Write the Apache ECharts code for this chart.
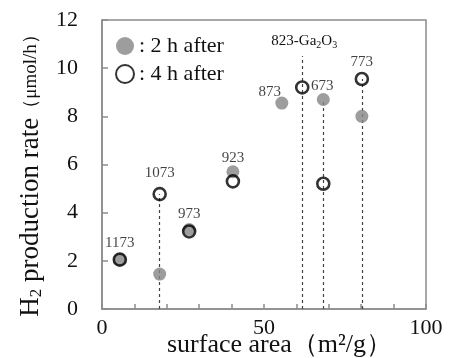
<!DOCTYPE html>
<html><head><meta charset="utf-8">
<script src="https://cdn.jsdelivr.net/npm/echarts@6/dist/echarts.min.js"></script>
<style>html,body{margin:0;padding:0;background:#fff}#c{width:450px;height:358px}</style>
</head><body><div id="c"></div>
<script>
const samples = ['1173', '1073', '973', '923', '873', '823-Ga₂O₃', '673', '773'];
const surfaceArea = [5.5, 17.8, 26.9, 40.4, 55.5, 61.8, 68.3, 80.2];
const rate2h = [2.05, 1.45, 3.3, 5.7, 8.55, null, 8.7, 8.0];
const rate4h = [2.05, 4.77, 3.22, 5.3, null, 9.2, 5.2, 9.55];
const guideTop = [null, 4.77, null, null, null, 10.5, 8.7, 9.55];
const xTicks = [0, 50, 100];
const yTicks = [0, 2, 4, 6, 8, 10, 12];

const serif = 'Liberation Serif';
const axisGray = '#8c8c8c';

// label placement per sample: which series carries it and its offset
const labelOn = ['4h', '4h', '2h', '2h', '2h', null, '2h', '4h'];
const labelOffset = [[0, 3], [0, -1], [0, 4], [0, 5], [-12, 8], [0, 0], [-1, 6], [0, 3]];

function pts(vals, key) {
  const out = [];
  vals.forEach((v, i) => {
    if (v == null) return;
    const d = { value: [surfaceArea[i], v] };
    if (labelOn[i] === key) {
      d.label = { show: true, formatter: samples[i], position: 'top', offset: labelOffset[i] };
    }
    out.push(d);
  });
  return out;
}

const guides = [];
guideTop.forEach((t, i) => {
  if (t == null) return;
  const item = [{ coord: [surfaceArea[i], 0] }, { coord: [surfaceArea[i], t] }];
  if (i === 5) {
    item[1].label = { show: true, position: 'end', formatter: '{n|823-Ga}{s|2}{n|O}{s|3}', distance: 6, offset: [2, 0],
      rich: { n: { fontFamily: serif, fontSize: 15, color: '#111' }, s: { fontFamily: serif, fontSize: 10, color: '#111', verticalAlign: 'bottom', padding: [8, 0, 0, 0] } } };
  }
  guides.push(item);
});

const chart = echarts.init(document.getElementById('c'), null, { renderer: 'canvas' });
chart.setOption({
  animation: false,
  backgroundColor: '#fff',
  textStyle: { fontFamily: serif },
  grid: { left: 102, top: 20, right: 24, bottom: 49, outerBoundsMode: 'none', containLabel: false, show: true, borderColor: axisGray, borderWidth: 1.5, backgroundColor: 'transparent' },
  legend: {
    orient: 'vertical', left: 110, top: 30, itemGap: 6, itemWidth: 18, itemHeight: 18,
    textStyle: { fontFamily: serif, fontSize: 22, color: '#111', padding: [0, 0, 0, 0] },
    data: [
      { name: ': 2 h after', icon: 'circle' },
      { name: ': 4 h after', icon: 'circle' }
    ]
  },
  xAxis: {
    type: 'value', min: 0, max: 100, interval: 10,
    name: 'surface area（m²/g）', nameLocation: 'middle', nameGap: 23, nameMoveOverlap: false,
    nameTextStyle: { fontFamily: serif, fontSize: 26, color: '#111', padding: [0, 0, 0, 31] },
    axisLine: { lineStyle: { color: axisGray, width: 1.5 } },
    axisTick: { inside: true, length: 5, lineStyle: { color: axisGray, width: 1.5 } },
    axisLabel: { margin: 8, fontFamily: serif, fontSize: 22, color: '#111', formatter: v => xTicks.includes(v) ? String(v) : '' },
    splitLine: { show: false }
  },
  yAxis: {
    type: 'value', min: 0, max: 12, interval: 2,
    name: '{t|H}{s|2}{t| production rate}{p|（μmol/h）}', nameLocation: 'middle', nameGap: 56, nameRotate: 90,
    nameTextStyle: { padding: [0, 13, 0, 0], rich: { t: { fontFamily: serif, fontSize: 27, color: '#111' }, s: { fontFamily: serif, fontSize: 17, color: '#111', verticalAlign: 'bottom', padding: [12, 0, 0, 0] }, p: { fontFamily: serif, fontSize: 19, color: '#111' } } },
    axisLine: { lineStyle: { color: axisGray, width: 1.5 } },
    axisTick: { inside: true, length: 6, lineStyle: { color: axisGray, width: 1.5 } },
    axisLabel: { margin: 24, fontFamily: serif, fontSize: 22, color: '#111', formatter: v => yTicks.includes(v) ? String(v) : '' },
    splitLine: { show: false }
  },
  series: [
    {
      name: ': 2 h after', type: 'scatter', symbol: 'circle', symbolSize: 13, z: 3,
      itemStyle: { color: '#858585' },
      label: { fontFamily: serif, fontSize: 15, color: '#111' },
      data: pts(rate2h, '2h'),
      markLine: { silent: true, symbol: 'none', lineStyle: { type: [3, 3], color: '#444', width: 1.2 }, label: { show: false }, data: guides, z: 1 }
    },
    {
      name: ': 4 h after', type: 'scatter', symbol: 'circle', symbolSize: 12, z: 4,
      itemStyle: { color: 'rgba(255,255,255,0)', borderColor: '#000', borderWidth: 2.6 },
      label: { fontFamily: serif, fontSize: 15, color: '#111' },
      data: pts(rate4h, '4h')
    }
  ]
});
</script></body></html>
